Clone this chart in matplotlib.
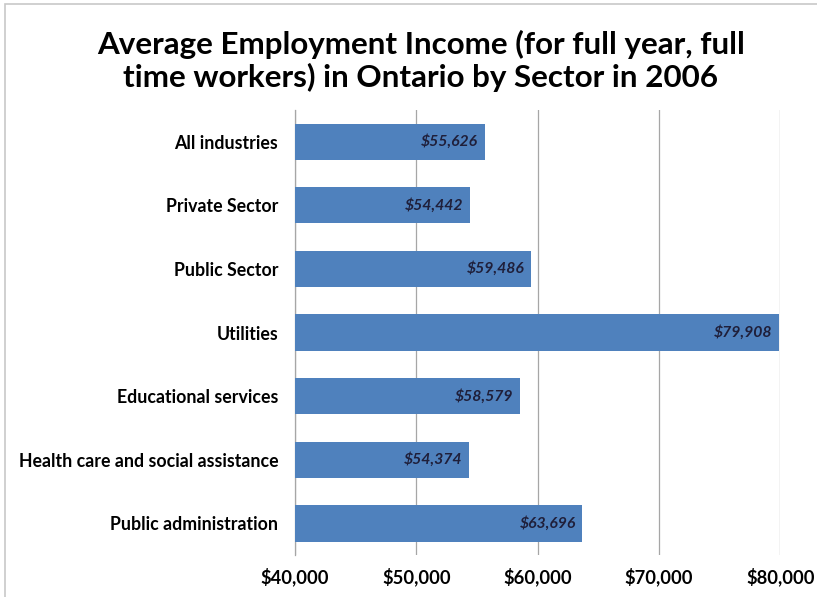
import matplotlib.pyplot as plt
from matplotlib.patches import Rectangle

sectors = ['All industries', 'Private Sector', 'Public Sector', 'Utilities',
           'Educational services', 'Health care and social assistance',
           'Public administration']
income = [55626, 54442, 59486, 79908, 58579, 54374, 63696]
ticks = [40000, 50000, 60000, 70000, 80000]

plt.rcParams['font.family'] = ['Lato', 'DejaVu Sans']

fig = plt.figure(figsize=(8.17, 5.97), dpi=100)
ax = fig.add_axes([0.361, 0.070, 0.594, 0.746])

pos = list(range(len(sectors)))
ax.barh(pos, [v - 40000 for v in income], left=40000, height=0.57,
        color='#4F81BD', zorder=3)

for y, v in zip(pos, income):
    ax.text(v - 550, y, f'${v:,}', ha='right', va='center', fontsize=11.3,
            fontweight='bold', fontstyle='italic', color='#1F1F3A', zorder=4)

ax.set_xlim(40000, 80000)
ax.set_ylim(len(sectors) - 0.5, -0.5)
ax.set_xticks(ticks)
ax.set_xticklabels([f'${t:,}' for t in ticks], fontsize=13.2, fontweight='bold')
ax.set_yticks(pos)
ax.set_yticklabels(sectors, fontsize=12.8, fontweight='bold')
ax.tick_params(axis='y', length=0, pad=12)
ax.tick_params(axis='x', length=0, pad=9)
ax.grid(axis='x', color='#A6A6A6', linewidth=0.9, zorder=0)

for side in ['top', 'right', 'bottom']:
    ax.spines[side].set_visible(False)
ax.spines['left'].set_color('#A6A6A6')
ax.spines['left'].set_linewidth(0.9)

fig.text(0.515, 0.898, 'Average Employment Income (for full year, full\n'
         'time workers) in Ontario by Sector in 2006',
         ha='center', va='center', fontsize=22.6, fontweight='bold',
         linespacing=1.15)

fig.patches.append(Rectangle((0.006, -0.01), 1.2, 1.003, transform=fig.transFigure,
                             fill=False, edgecolor='#C8C8C8', linewidth=1.2))

fig.savefig('out.png', dpi=100)
